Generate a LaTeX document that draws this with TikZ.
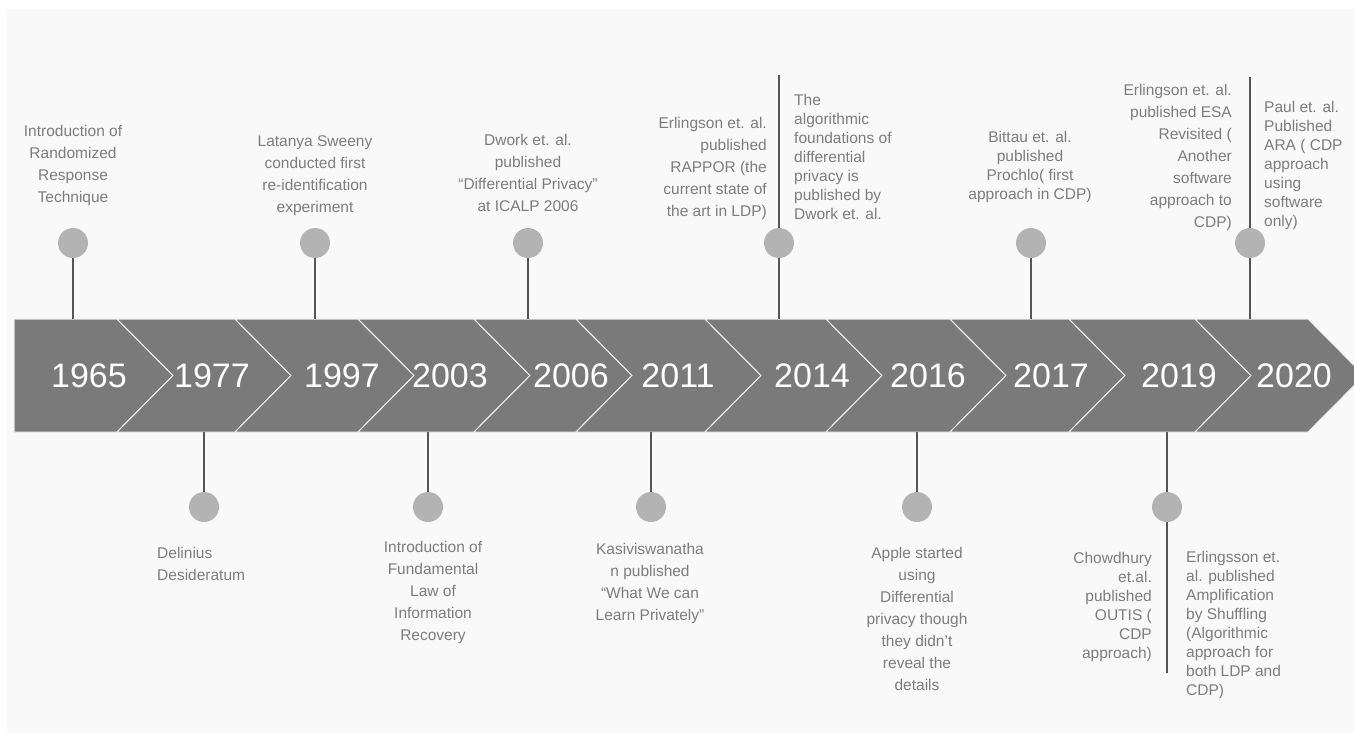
\documentclass[tikz,border=0pt]{standalone}
\usepackage{fontspec}
\setmainfont{Liberation Sans}
\definecolor{bandgray}{HTML}{7A7A7A}
\definecolor{pingray}{HTML}{B3B3B3}
\definecolor{stemgray}{HTML}{555555}
\definecolor{textgray}{HTML}{7D7D7D}
\definecolor{bggray}{HTML}{F9F9F9}
\begin{document}
\begin{tikzpicture}[x=1pt,y=-1pt,
  pin/.style={circle,fill=pingray,minimum size=30pt,inner sep=0pt},
  stem/.style={stemgray,line width=1.6pt},
  year/.style={white,inner sep=0pt,font=\fontsize{34}{34}\selectfont},
  chev/.style={fill=bandgray,draw=white!92!black,line width=1pt},
  lbl/.style={textgray,inner sep=0pt,anchor=north,align=center,font=\fontsize{15.5}{22}\selectfont},
  lblr/.style={lbl,align=right,anchor=north east},
  lbll/.style={lbl,align=left,anchor=north west},
  tight/.style={font=\fontsize{15.5}{19}\selectfont}]
\useasboundingbox (0,0) rectangle (1354,733);
\fill[white] (0,0) rectangle (1354,733);
\fill[bggray] (7,9) rectangle (1354,733);
% band
\coordinate (bandtop) at (0,319);
\coordinate (bandbot) at (0,432);
\coordinate (pinup) at (0,243);
\coordinate (pindown) at (0,507);
\draw[chev] (14,319) -- (117,319) -- (173,375.5) -- (117,432) -- (14,432) -- cycle;
\foreach \a/\b in {117/235,235/358,358/474,474/576,576/705,705/826,826/950,950/1069,1069/1195,1195/1308}
  \draw[chev] (\a,319) -- (\b,319) -- (\b+56,375.5) -- (\b,432) -- (\a,432) -- (\a+56,375.5) -- cycle;
% years
\foreach \yr/\xx in {1965/89,1977/212,1997/342,2003/450,2006/571,2011/678,2014/812,2016/928,2017/1051,2019/1179,2020/1294}
  \node[year] (y\yr) at (\xx,376) {\yr};
% long stems
\coordinate (s2014) at (779,75);
\coordinate (s2020) at (1250,77);
\coordinate (s2019) at (1167,673);
\draw[stem] (s2014) -- (s2014 |- bandtop);
\draw[stem] (s2020) -- (s2020 |- bandtop);
\draw[stem] (s2019) -- (s2019 |- bandbot);
% pins above
\node[pin] (p1965) at (73,243) {};
\node[pin] (p1997) at (315,243) {};
\node[pin] (p2006) at (528,243) {};
\node[pin] (p2014) at (s2014 |- pinup) {};
\node[pin] (p2017) at (1031,243) {};
\node[pin] (p2020) at (s2020 |- pinup) {};
\foreach \p in {p1965,p1997,p2006,p2017}
  \draw[stem] (\p) -- (\p |- bandtop);
% pins below
\node[pin] (p1977) at (204,507) {};
\node[pin] (p2003) at (428,507) {};
\node[pin] (p2011) at (651,507) {};
\node[pin] (p2016) at (917,507) {};
\node[pin] (p2019) at (s2019 |- pindown) {};
\foreach \p in {p1977,p2003,p2011,p2016}
  \draw[stem] (\p) -- (\p |- bandbot);
% labels above
\node[lbl] (l1965) at (73,125.5) {Introduction of\\Randomized\\Response\\Technique};
\node[lbl] (l1997) at (315,135.5) {Latanya Sweeny\\conducted first\\re-identification\\experiment};
\node[lbl] (l2006) at (528,134.5) {Dwork et. al.\\published\\“Differential Privacy”\\at ICALP 2006};
\node[lblr] (l2014a) at (767,117.5) {Erlingson et. al.\\published\\RAPPOR (the\\current state of\\the art in LDP)};
\node[lbll,tight] (l2014b) at (794,94.5) {The\\algorithmic\\foundations of\\differential\\privacy is\\published by\\Dwork et. al.};
\node[lbl,tight] (l2017) at (1030,131.5) {Bittau et. al.\\published\\Prochlo( first\\approach in CDP)};
\node[lblr] (l2020a) at (1232,84.5) {Erlingson et. al.\\published ESA\\Revisited (\\Another\\software\\approach to\\CDP)};
\node[lbll,tight] (l2020b) at (1264,101.5) {Paul et. al.\\Published\\ARA ( CDP\\approach\\using\\software\\only)};
% labels below
\node[lbll] (l1977) at (157,547.5) {Delinius\\Desideratum};
\node[lbl] (l2003) at (433,541.5) {Introduction of\\Fundamental\\Law of\\Information\\Recovery};
\node[lbl] (l2011) at (650,543.5) {Kasiviswanatha\\n published\\“What We can\\Learn Privately”};
\node[lbl] (l2016) at (917,547.5) {Apple started\\using\\Differential\\privacy though\\they didn’t\\reveal the\\details};
\node[lblr,tight] (l2019a) at (1152,552.5) {Chowdhury\\et.al.\\published\\OUTIS (\\CDP\\approach)};
\node[lbll,tight] (l2019b) at (1186,551.5) {Erlingsson et.\\al. published\\Amplification\\by Shuffling\\(Algorithmic\\approach for\\both LDP and\\CDP)};
\end{tikzpicture}
\end{document}
